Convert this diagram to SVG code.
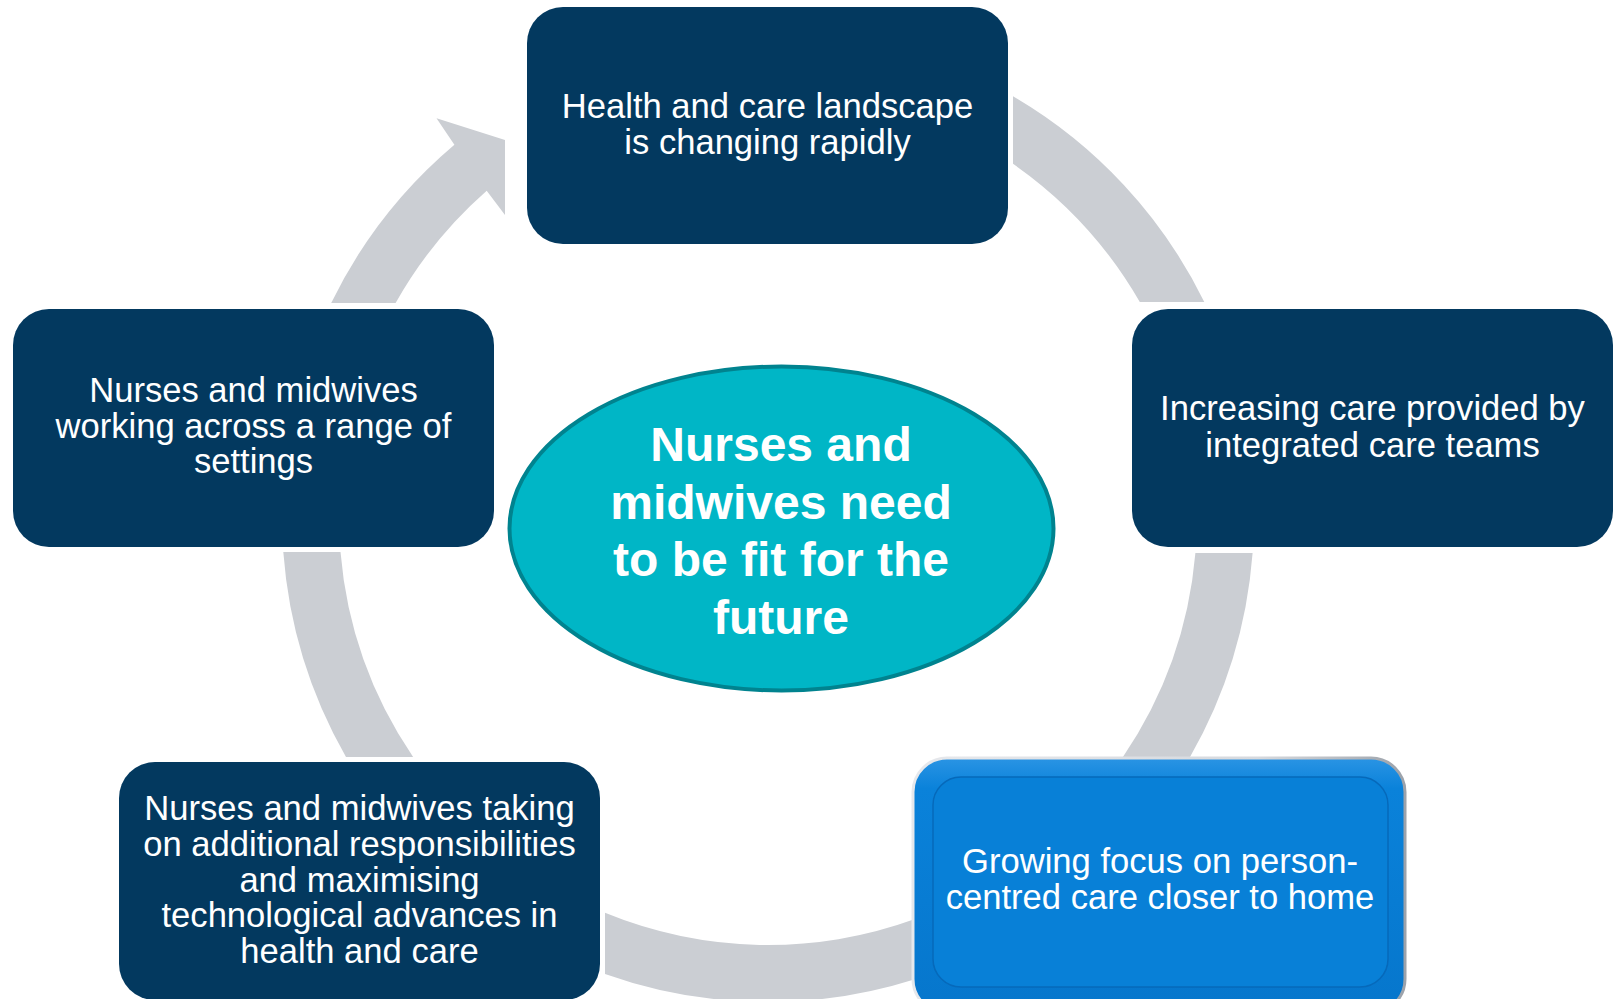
<svg xmlns="http://www.w3.org/2000/svg" width="1617" height="999" viewBox="0 0 1617 999">
  <defs>
    <style>
      .ring { fill: #CBCED3; }
      .navy { fill: #03395F; }
      .lbl { font-family: "Liberation Sans", Arial, sans-serif; font-size: 34.6px; fill: #FFFFFF; text-anchor: middle; }
      .big { font-family: "Liberation Sans", Arial, sans-serif; font-size: 48px; font-weight: bold; fill: #FFFFFF; text-anchor: middle; }
    </style>
    <linearGradient id="rimStroke" x1="0" y1="0" x2="1" y2="0">
      <stop offset="0" stop-color="#E6E8EC"/>
      <stop offset="0.7" stop-color="#D6D9DE"/>
      <stop offset="1" stop-color="#9CA2AA"/>
    </linearGradient>
    <linearGradient id="rimFill" x1="0" y1="0" x2="0" y2="1">
      <stop offset="0" stop-color="#2A94E4"/>
      <stop offset="0.12" stop-color="#0A82DA"/>
      <stop offset="1" stop-color="#0676CC"/>
    </linearGradient>
  </defs>
  <rect x="0" y="0" width="1617" height="999" fill="#FFFFFF"/>

  <g id="connectors">
    <path class="ring" d="M331.2,303 A486,486 0 0 1 454.4,144.7 L436.5,118.3 L505,140 L505,215 L486.7,190.7 A429,429 0 0 0 395.6,303 Z"/>
    <path class="ring" d="M1013,96.3 A486,486 0 0 1 1204.3,302 L1139.8,302 A429,429 0 0 0 1013,163.8 Z"/>
    <path class="ring" d="M1252.6,553 A486,486 0 0 1 1190,757 L1122.9,757 A429,429 0 0 0 1195.4,553 Z"/>
    <path class="ring" d="M915,979.2 A486,486 0 0 1 605,973.9 L605,912.8 A429,429 0 0 0 915,919 Z"/>
    <path class="ring" d="M346,757 A486,486 0 0 1 283.3,552 L340.5,552 A429,429 0 0 0 413.1,757 Z"/>
  </g>

  <g id="center">
    <ellipse cx="781.5" cy="528.5" rx="272" ry="162" fill="#00B6C6" stroke="#00838F" stroke-width="4"/>
    <text class="big" x="781" y="461">Nurses and</text>
    <text class="big" x="781" y="518.5">midwives need</text>
    <text class="big" x="781" y="576">to be fit for the</text>
    <text class="big" x="781" y="633.5">future</text>
  </g>

  <g id="node-top">
    <rect class="navy" x="527" y="7" width="481" height="237" rx="36"/>
    <text class="lbl" x="767.5" y="118">Health and care landscape</text>
    <text class="lbl" x="767.5" y="154">is changing rapidly</text>
  </g>

  <g id="node-right">
    <rect class="navy" x="1132" y="309" width="481" height="238" rx="36"/>
    <text class="lbl" x="1372.5" y="420">Increasing care provided by</text>
    <text class="lbl" x="1372.5" y="456.5">integrated care teams</text>
  </g>

  <g id="node-bottom-right">
    <rect x="913" y="758" width="492" height="255" rx="34" fill="url(#rimFill)" stroke="url(#rimStroke)" stroke-width="3"/>
    <rect x="933" y="777" width="455" height="210" rx="28" fill="#0880D7" stroke="#0669BA" stroke-width="1.5"/>
    <text class="lbl" x="1160" y="873">Growing focus on person-</text>
    <text class="lbl" x="1160" y="909">centred care closer to home</text>
  </g>

  <g id="node-bottom-left">
    <rect class="navy" x="119" y="762" width="481" height="238" rx="36"/>
    <text class="lbl" x="359.5" y="820">Nurses and midwives taking</text>
    <text class="lbl" x="359.5" y="855.5">on additional responsibilities</text>
    <text class="lbl" x="359.5" y="891.5">and maximising</text>
    <text class="lbl" x="359.5" y="927">technological advances in</text>
    <text class="lbl" x="359.5" y="963">health and care</text>
  </g>

  <g id="node-left">
    <rect class="navy" x="13" y="309" width="481" height="238" rx="36"/>
    <text class="lbl" x="253.5" y="402">Nurses and midwives</text>
    <text class="lbl" x="253.5" y="437.5">working across a range of</text>
    <text class="lbl" x="253.5" y="473">settings</text>
  </g>
</svg>
